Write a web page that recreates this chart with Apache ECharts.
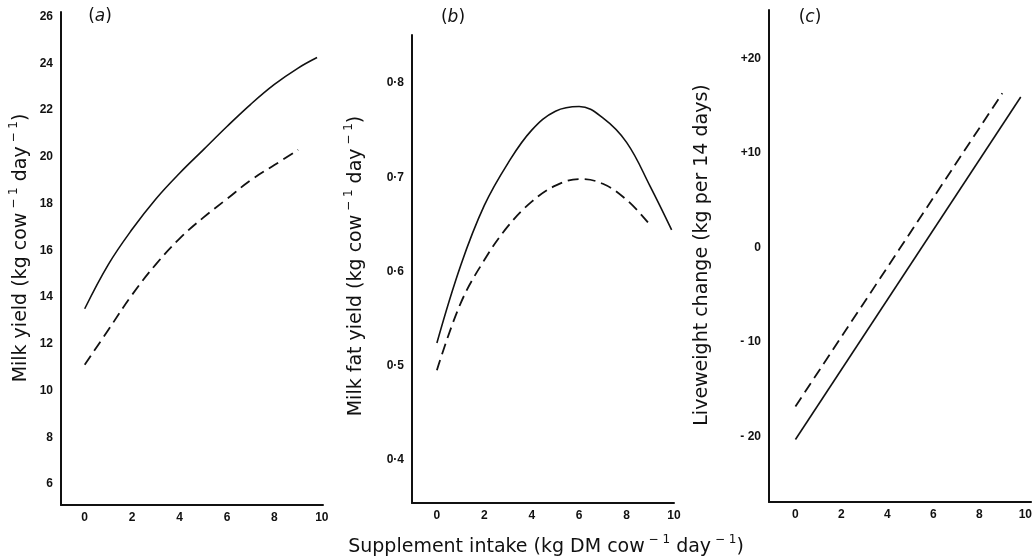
<!DOCTYPE html>
<html>
<head>
<meta charset="utf-8">
<script src="https://cdn.jsdelivr.net/npm/echarts@6/dist/echarts.min.js"></script>
<style>
html,body{margin:0;padding:0;background:#fff;}
#chart{width:1035px;height:558px;}
</style>
</head>
<body>
<div id="chart"></div>
<script>
// ---- data ----
const xTicks = [0, 2, 4, 6, 8, 10];
const xTickLabels = ['0', '2', '4', '6', '8', '10'];

// (a) Milk yield
const aX = [0, 1, 2, 3, 4, 5, 6, 7, 8, 9, 9.8];
const aSolid = [13.5, 15.4, 16.9, 18.2, 19.3, 20.3, 21.3, 22.25, 23.1, 23.8, 24.25];
const aDashX = [0, 1, 2, 3, 4, 5, 6, 7, 8, 9];
const aDash = [11.1, 12.6, 14.1, 15.4, 16.5, 17.4, 18.2, 19.0, 19.65, 20.3];
const aYTicks = [6, 8, 10, 12, 14, 16, 18, 20, 22, 24, 26];
const aYTickLabels = ['6', '8', '10', '12', '14', '16', '18', '20', '22', '24', '26'];

// (b) Milk fat yield
const bX = [0, 1, 2, 3, 4, 5, 6, 7, 8, 9, 9.9];
const bSolid = [0.524, 0.606, 0.67, 0.715, 0.75, 0.77, 0.775, 0.763, 0.737, 0.69, 0.644];
const bDashX = [0, 1, 2, 3, 4, 5, 6, 7, 8, 8.9];
const bDash = [0.495, 0.566, 0.612, 0.648, 0.674, 0.691, 0.698, 0.693, 0.676, 0.652];
const bYTicks = [0.4, 0.5, 0.6, 0.7, 0.8];
const bYTickLabels = ['0·4', '0·5', '0·6', '0·7', '0·8'];

// (c) Liveweight change
const cSolidX = [0, 9.8];
const cSolid = [-20.3, 15.9];
const cDashX = [0, 9];
const cDash = [-16.8, 16.3];
const cYTicks = [-20, -10, 0, 10, 20];
const cYTickLabels = ['- 20', '- 10', '0', '+10', '+20'];

// ---- helpers ----
const pairs = (xs, ys) => xs.map((x, i) => [x, ys[i]]);
const labelFor = (ticks, labels) => v => {
  for (let i = 0; i < ticks.length; i++) if (Math.abs(ticks[i] - v) < 1e-6) return labels[i];
  return '';
};
const INK = '#111';
const FONT = '"Liberation Sans", Arial, sans-serif';
const TFONT = '"DejaVu Sans", sans-serif';

function xAxis(gi, min, max) {
  return {
    type: 'value', gridIndex: gi, min: min, max: max,
    axisLine: { show: true, onZero: false, lineStyle: { color: INK, width: 2 } },
    axisTick: { show: false },
    splitLine: { show: false },
    axisLabel: {
      customValues: xTicks, formatter: labelFor(xTicks, xTickLabels),
      color: INK, fontSize: 12, fontWeight: 'bold', fontFamily: FONT, margin: 7
    }
  };
}
function yAxis(gi, min, max, ticks, labels) {
  return {
    type: 'value', gridIndex: gi, min: min, max: max,
    axisLine: { show: true, onZero: false, lineStyle: { color: INK, width: 2 } },
    axisTick: { show: false },
    splitLine: { show: false },
    axisLabel: {
      customValues: ticks, formatter: labelFor(ticks, labels),
      color: INK, fontSize: 12, fontWeight: 'bold', fontFamily: FONT, margin: 8
    }
  };
}
function solid(gi, data) {
  return { type: 'line', xAxisIndex: gi, yAxisIndex: gi, data: data, smooth: 0.4, symbol: 'none',
    lineStyle: { color: INK, width: 1.6, type: 'solid' }, silent: true, animation: false };
}
function dashed(gi, data) {
  return { type: 'line', xAxisIndex: gi, yAxisIndex: gi, data: data, smooth: 0.4, symbol: 'none',
    lineStyle: { color: INK, width: 1.8, type: [11, 6] }, silent: true, animation: false };
}

const chart = echarts.init(document.getElementById('chart'), null, { renderer: 'canvas' });
const rich = {
  n: { fill: INK, fontSize: 19, fontFamily: TFONT, verticalAlign: 'bottom', lineHeight: 23 },
  s: { fill: INK, fontSize: 12, fontFamily: TFONT, verticalAlign: 'top', lineHeight: 23 }
};
const panelRich = { p: { fill: INK, fontSize: 17, fontFamily: TFONT }, i: { fill: INK, fontSize: 17, fontStyle: 'italic', fontFamily: TFONT } };
function title(x, y, rot, text) {
  return { type: 'text', x: x, y: y, rotation: rot,
    style: { text: text, rich: rich, align: 'center', verticalAlign: 'middle' } };
}

chart.setOption({
  backgroundColor: '#fff',
  animation: false,
  grid: [
    { left: 61, top: 12, width: 262, height: 493 },
    { left: 412, top: 35, width: 262, height: 468 },
    { left: 769, top: 10, width: 266, height: 492 }
  ],
  xAxis: [xAxis(0, -1, 10.05), xAxis(1, -1.05, 10), xAxis(2, -1.15, 10.25)],
  yAxis: [
    yAxis(0, 5.1, 26.2, aYTicks, aYTickLabels),
    yAxis(1, 0.354, 0.851, bYTicks, bYTickLabels),
    yAxis(2, -26.9, 25.1, cYTicks, cYTickLabels)
  ],
  series: [
    solid(0, pairs(aX, aSolid)),
    dashed(0, pairs(aDashX, aDash)),
    solid(1, pairs(bX, bSolid)),
    dashed(1, pairs(bDashX, bDash)),
    solid(2, pairs(cSolidX, cSolid)),
    dashed(2, pairs(cDashX, cDash))
  ],
  graphic: [
    title(19, 248, Math.PI / 2, '{n|Milk yield (kg cow}{s| − 1}{n| day}{s| − 1}{n|)}'),
    title(354, 266, Math.PI / 2, '{n|Milk fat yield (kg cow}{s| − 1}{n| day}{s| − 1}{n|)}'),
    title(700, 255, Math.PI / 2, '{n|Liveweight change (kg per 14 days)}'),
    title(546, 545, 0, '{n|Supplement intake (kg DM cow}{s| − 1}{n| day}{s| − 1}{n|)}'),
    { type: 'text', x: 100, y: 17, style: { text: '{p|(}{i|a}{p|)}', align: 'center', verticalAlign: 'middle', rich: panelRich } },
    { type: 'text', x: 453, y: 18, style: { text: '{p|(}{i|b}{p|)}', align: 'center', verticalAlign: 'middle', rich: panelRich } },
    { type: 'text', x: 810, y: 18, style: { text: '{p|(}{i|c}{p|)}', align: 'center', verticalAlign: 'middle', rich: panelRich } }
  ]
});
</script>
</body>
</html>
